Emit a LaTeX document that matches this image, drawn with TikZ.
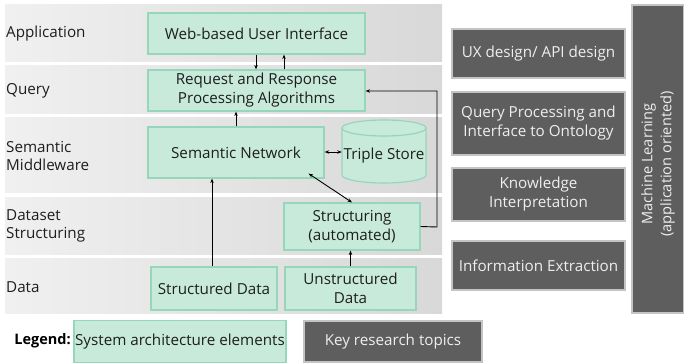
\documentclass[tikz,border=0pt]{standalone}
\usepackage{fontspec}
\setmainfont{Open Sans}
\usetikzlibrary{arrows.meta,calc}
\definecolor{gfill}{HTML}{C8EADB}
\definecolor{gdraw}{HTML}{96D6BA}
\definecolor{dfill}{HTML}{5E5E5E}
\definecolor{ddraw}{HTML}{C4C4C4}
\definecolor{dtext}{HTML}{EEEEEE}
\definecolor{ltext}{HTML}{1E1E1E}
\definecolor{bandL}{HTML}{F0F0F0}
\definecolor{bandR}{HTML}{D8D8D8}
\tikzset{
  txt/.style={font=\fontsize{15.2}{19}\selectfont, text=ltext, align=center},
  gbox/.style={txt, draw=gdraw, fill=gfill, line width=1.2pt, inner sep=0pt},
  dbox/.style={font=\fontsize{15.2}{19}\selectfont, text=dtext, align=center, draw=ddraw, fill=dfill, line width=1.6pt, inner sep=0pt},
  lbl/.style={font=\fontsize{15.2}{18.5}\selectfont, text=ltext, align=left, anchor=west, inner sep=0pt},
  band/.style={left color=bandL, right color=bandR},
  conn/.style={-{Stealth[length=4.5pt,width=3.5pt]}, line width=0.9pt, black},
  dconn/.style={{Stealth[length=4.5pt,width=3.5pt]}-{Stealth[length=4.5pt,width=3.5pt]}, line width=0.9pt, black}
}
\begin{document}
\begin{tikzpicture}[x=1pt,y=-1pt]
\useasboundingbox (0,0) rectangle (684,363);
% bands
\shade[band] (5,5) rectangle (442,62);
\shade[band] (5,66) rectangle (442,114);
\shade[band] (5,118) rectangle (442,193);
\shade[band] (5,198) rectangle (442,254);
\shade[band] (5,258) rectangle (442,313);
% band labels
\node[lbl] (lapp) at (6,34) {Application};
\node[lbl] (lqry) at (6,91) {Query};
\node[lbl] (lsem) at (6,156) {Semantic\\Middleware};
\node[lbl] (lds) at (6,226) {Dataset\\Structuring};
\node[lbl] (ldat) at (6,287) {Data};
% green boxes
\node[gbox, minimum width=217pt, minimum height=41pt] (web) at (256.5,33.5) {Web-based User Interface};
\node[gbox, minimum width=217pt, minimum height=41pt] (req) at (256.5,90.5) {Request and Response\\Processing Algorithms};
\node[gbox, minimum width=176pt, minimum height=51pt] (sem) at (236,152.5) {Semantic Network};
\node[gbox, minimum width=136pt, minimum height=47pt] (str) at (352,226.5) {Structuring\\(automated)};
\node[gbox, minimum width=126pt, minimum height=43pt] (sd) at (214,288.5) {Structured Data};
\node[gbox, minimum width=131pt, minimum height=43pt] (ud) at (350.5,288.5) {Unstructured\\Data};
% triple store cylinder
\path[draw=gdraw, fill=gfill, line width=1.2pt]
  (342,128) -- (342,175) arc[start angle=180, end angle=360, x radius=42pt, y radius=8pt]
  -- (426,128) arc[start angle=0, end angle=180, x radius=42pt, y radius=8pt] -- cycle;
\draw[draw=gdraw, line width=1.2pt] (342,128) arc[start angle=180, end angle=360, x radius=42pt, y radius=8pt];
\node[minimum width=84pt, minimum height=63pt, inner sep=0pt] (ts) at (384,151.5) {};
\node[txt, inner sep=0pt] (tslbl) at (384,156) {Triple Store};
% dark boxes
\node[dbox, minimum width=173pt, minimum height=49pt] (ux) at (538.5,53.5) {UX design/ API design};
\node[dbox, minimum width=173pt, minimum height=63pt] (qp) at (538.5,123.5) {Query Processing and\\Interface to Ontology};
\node[dbox, minimum width=173pt, minimum height=53pt] (ki) at (538.5,194.5) {Knowledge\\Interpretation};
\node[dbox, minimum width=173pt, minimum height=49pt] (ie) at (538.5,265.5) {Information Extraction};
\node[dbox, minimum width=52pt, minimum height=308pt] (ml) at (658,159) {};
\node[font=\fontsize{14.6}{19}\selectfont, text=dtext, align=center, rotate=90, inner sep=0pt] (mllbl) at (658,164) {Machine Learning\\(application oriented)};
% legend
\node[font=\bfseries\fontsize{14.5}{18}\selectfont, text=black, anchor=east, inner sep=0pt] (leg) at (71,341) {Legend:};
\node[gbox, minimum width=212pt, minimum height=42pt] (legg) at (180,341.5) {System architecture elements};
\node[dbox, minimum width=178pt, minimum height=41pt] (legd) at (393,341.5) {Key research topics};
% connectors
\coordinate (a1) at ($(web.south)+(-0.5,0)$);
\coordinate (a2) at ($(req.north)+(27.5,0)$);
\coordinate (a3) at ($(sd.north)+(-2,0)$);
\coordinate (a4) at ($(sem.south east)+(-16,-5)$);
\draw[conn] (a1) -- (a1 |- req.north);
\draw[conn] (a2) -- (a2 |- web.south);
\draw[conn] (sem.north) -- (sem.north |- req.south);
\draw[conn] (a3) -- (a3 |- sem.south);
\draw[dconn] (sem.east |- 0,152) -- (ts.west |- 0,152);
\draw[dconn] (a4) -- (str.north);
\draw[conn] (ud.north) -- (ud.north |- str.south);
\coordinate (c1) at (437,227);
\coordinate (c2) at (437,91);
\draw[conn] (str.east) -- (c1) -- (c2) -- (req.east |- c2);
\end{tikzpicture}
\end{document}
